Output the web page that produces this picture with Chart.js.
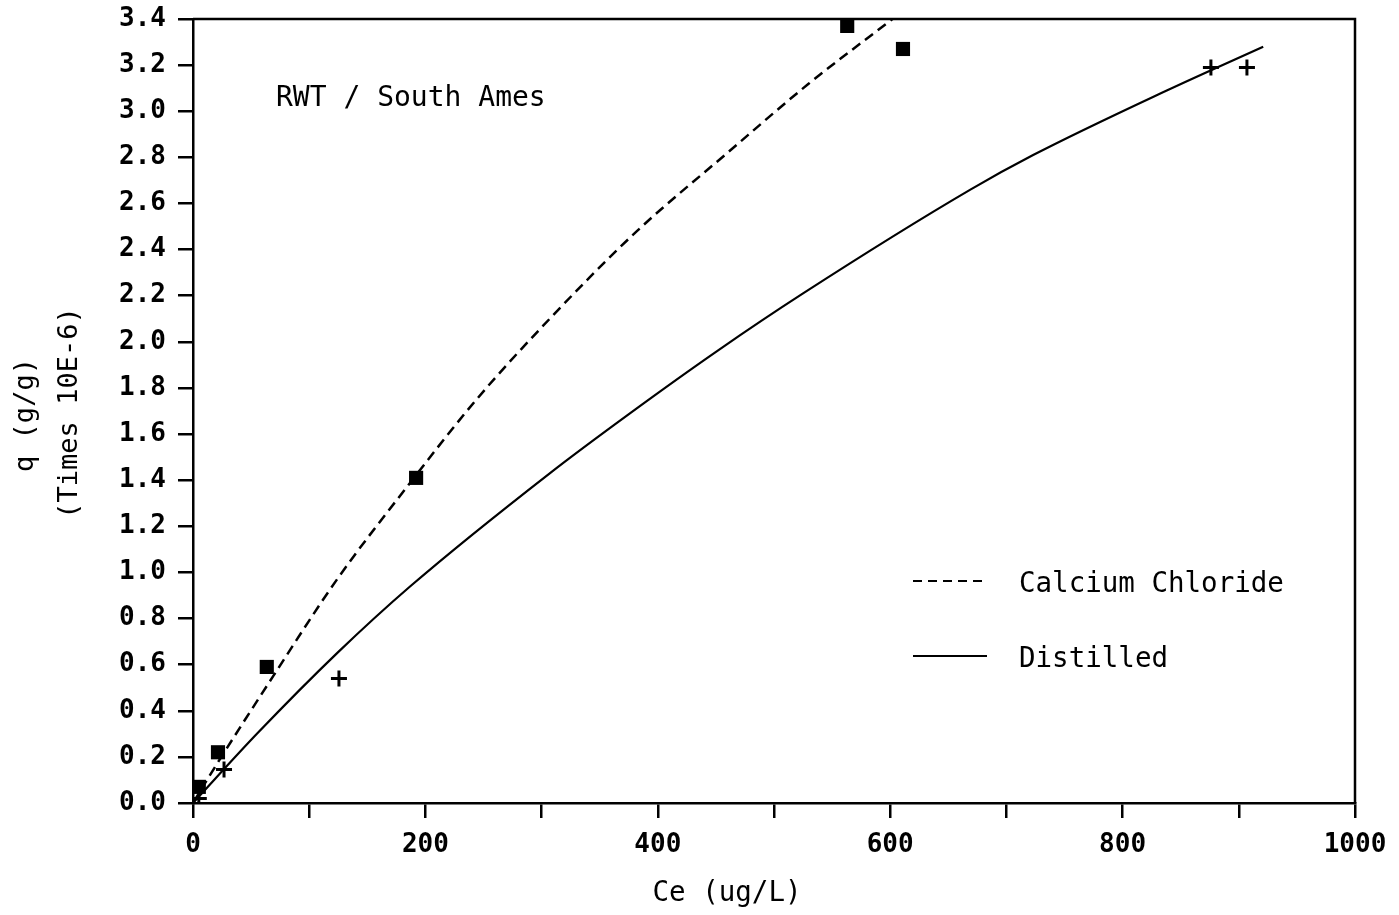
<!DOCTYPE html>
<html>
<head>
<meta charset="utf-8">
<script src="https://cdn.jsdelivr.net/npm/chart.js@4.4.1/dist/chart.umd.min.js"></script>
<style>
  html, body { margin: 0; padding: 0; background: #fff; }
  #wrap { width: 1399px; height: 915px; position: relative; }
</style>
</head>
<body>
<div id="wrap"><canvas id="c" width="1399" height="915"></canvas></div>
<script>
// ---- data ----
const cacl2PointsX = [5, 21.5, 63.5, 192, 563, 611];
const cacl2PointsY = [0.07, 0.22, 0.59, 1.41, 3.37, 3.27];
const distPointsX = [5, 26.7, 125.6, 876, 907];
const distPointsY = [0.02, 0.145, 0.54, 3.19, 3.19];

const cacl2CurveX = [0, 12, 69, 124, 184, 244, 307, 382, 460, 530, 602];
const cacl2CurveY = [0, 0.10, 0.55, 0.97, 1.37, 1.75, 2.10, 2.48, 2.82, 3.12, 3.40];
const distCurveX = [0, 55, 124, 187, 307, 376, 451, 525, 669, 723, 838, 921];
const distCurveY = [0, 0.30, 0.65, 0.94, 1.43, 1.69, 1.96, 2.21, 2.66, 2.81, 3.09, 3.28];

const xTickLabels = [0, 200, 400, 600, 800, 1000];
const seriesNames = ['Calcium Chloride', 'Distilled'];
const annotationText = 'RWT / South Ames';
const xTitle = 'Ce (ug/L)';
const yTitleLines = ['q (g/g)', '(Times 10E-6)'];

const pts = (xs, ys) => xs.map((x, i) => ({ x: x, y: ys[i] }));

const FONT = '"DejaVu Sans Mono", "Liberation Mono", monospace';

const framePlugin = {
  id: 'frameAndText',
  afterDraw(chart) {
    const { ctx, chartArea: a } = chart;
    ctx.save();
    ctx.strokeStyle = '#000';
    ctx.lineWidth = 2.5;
    ctx.beginPath();
    ctx.moveTo(a.left, a.top);
    ctx.lineTo(a.right, a.top);
    ctx.lineTo(a.right, a.bottom);
    ctx.stroke();

    ctx.fillStyle = '#000';
    ctx.textBaseline = 'alphabetic';
    // annotation
    ctx.font = '28px ' + FONT;
    ctx.textAlign = 'left';
    ctx.fillText(annotationText, 276, 106);

    // legend
    ctx.font = '27.5px ' + FONT;
    ctx.lineWidth = 2;
    ctx.setLineDash([9, 6]);
    ctx.beginPath(); ctx.moveTo(913, 581); ctx.lineTo(986, 581); ctx.stroke();
    ctx.setLineDash([]);
    ctx.beginPath(); ctx.moveTo(913, 656); ctx.lineTo(987, 656); ctx.stroke();
    ctx.fillText(seriesNames[0], 1019, 592);
    ctx.fillText(seriesNames[1], 1019, 667);

    // x title
    ctx.textAlign = 'center';
    ctx.fillText(xTitle, 727, 901);

    // y title (rotated)
    ctx.font = '27px ' + FONT;
    ctx.save();
    ctx.translate(33, 415);
    ctx.rotate(-Math.PI / 2);
    ctx.fillText(yTitleLines[0], 0, 0);
    ctx.restore();
    ctx.save();
    ctx.translate(77, 413);
    ctx.rotate(-Math.PI / 2);
    ctx.fillText(yTitleLines[1], 0, 0);
    ctx.restore();
    ctx.restore();
  }
};

new Chart(document.getElementById('c'), {
  type: 'scatter',
  data: {
    datasets: [
      {
        label: seriesNames[0] + ' fit',
        data: pts(cacl2CurveX, cacl2CurveY),
        showLine: true,
        borderColor: '#000',
        borderWidth: 2.5,
        borderDash: [10, 6],
        pointRadius: 0,
        cubicInterpolationMode: 'monotone',
        fill: false
      },
      {
        label: seriesNames[1] + ' fit',
        data: pts(distCurveX, distCurveY),
        showLine: true,
        borderColor: '#000',
        borderWidth: 2.2,
        pointRadius: 0,
        cubicInterpolationMode: 'monotone',
        fill: false
      },
      {
        label: seriesNames[0],
        data: pts(cacl2PointsX, cacl2PointsY),
        showLine: false,
        pointStyle: 'rect',
        pointRadius: 10,
        backgroundColor: '#000',
        borderColor: '#000',
        borderWidth: 0
      },
      {
        label: seriesNames[1],
        data: pts(distPointsX, distPointsY),
        showLine: false,
        pointStyle: 'cross',
        pointRadius: 8,
        borderColor: '#000',
        borderWidth: 3
      }
    ]
  },
  options: {
    responsive: false,
    animation: false,
    devicePixelRatio: 1,
    layout: { padding: { top: 19, right: 44, left: 0, bottom: 0 } },
    plugins: { legend: { display: false }, tooltip: { enabled: false } },
    scales: {
      x: {
        type: 'linear',
        min: 0, max: 1000,
        afterFit: s => { s.height = 112; s.paddingLeft = 0; s.paddingRight = 0; },
        ticks: {
          stepSize: 100,
          autoSkip: false,
          maxRotation: 0,
          padding: 12,
          color: '#000',
          font: { family: FONT, size: 26, weight: 'bold' },
          callback: v => xTickLabels.includes(v) ? String(v) : ''
        },
        grid: { drawOnChartArea: false, drawTicks: true, tickLength: 15, color: '#000', lineWidth: 2.5 },
        border: { display: true, color: '#000', width: 2.5 }
      },
      y: {
        type: 'linear',
        min: 0, max: 3.4,
        afterFit: s => { s.width = 193; s.paddingTop = 0; s.paddingBottom = 0; },
        ticks: {
          stepSize: 0.2,
          autoSkip: false,
          padding: 12,
          color: '#000',
          font: { family: FONT, size: 26, weight: 'bold' },
          callback: v => Number(v).toFixed(1)
        },
        grid: { drawOnChartArea: false, drawTicks: true, tickLength: 15, color: '#000', lineWidth: 2.5 },
        border: { display: true, color: '#000', width: 2.5 }
      }
    }
  },
  plugins: [framePlugin]
});
</script>
</body>
</html>
